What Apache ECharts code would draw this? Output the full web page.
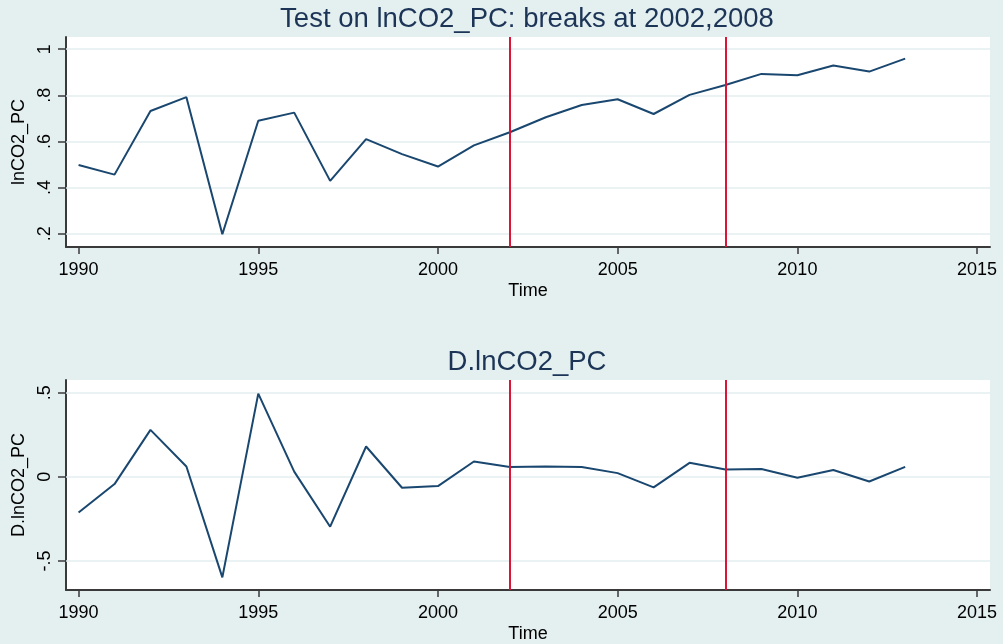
<!DOCTYPE html>
<html>
<head>
<meta charset="utf-8">
<script src="https://cdn.jsdelivr.net/npm/echarts@6/dist/echarts.min.js"></script>
<style>
  html, body { margin: 0; padding: 0; background: #e4eff0; }
  #chart { width: 1003px; height: 644px; }
</style>
</head>
<body>
<div id="chart"></div>
<script>
const years = [1990, 1991, 1992, 1993, 1994, 1995, 1996, 1997, 1998, 1999, 2000, 2001,
  2002, 2003, 2004, 2005, 2006, 2007, 2008, 2009, 2010, 2011, 2012, 2013];
const lnCO2 = [0.498, 0.456, 0.732, 0.792, 0.197, 0.690, 0.725, 0.429, 0.610, 0.545, 0.491, 0.583,
  0.640, 0.705, 0.758, 0.783, 0.719, 0.802, 0.845, 0.893, 0.887, 0.929, 0.903, 0.959];
const dLnCO2 = [-0.212, -0.043, 0.279, 0.061, -0.597, 0.494, 0.031, -0.296, 0.180, -0.065, -0.055, 0.091,
  0.059, 0.061, 0.059, 0.022, -0.063, 0.083, 0.043, 0.047, -0.006, 0.041, -0.028, 0.059];
const breaks = [2002, 2008];
const xTicks = [1990, 1995, 2000, 2005, 2010, 2015];
const yTicksTop = [0.2, 0.4, 0.6, 0.8, 1];
const yTicksBottom = [-0.5, 0, 0.5];

const font = "'Liberation Sans', Arial, sans-serif";
const navy = "#1a476f";
const axisColor = "#3a3a3a";
const gridColor = "#e3eef0";
const red = "#dc1438";

// Stata style tick labels: ".2", "-.5", "0"
function stataNum(v) {
  if (v === 0) return "0";
  let s = String(Math.round(v * 100) / 100);
  return s.replace(/^(-?)0\./, "$1.");
}

function xAxis(gridIndex) {
  return {
    type: "value", gridIndex, min: 1989.65, max: 2015.36,
    name: "Time", nameLocation: "middle", nameGap: 35,
    nameTextStyle: { fontFamily: font, fontSize: 18, color: "#000" },
    axisLine: { show: true, onZero: false, lineStyle: { color: axisColor, width: 2 } },
    axisTick: { show: true, length: 7, customValues: xTicks, lineStyle: { color: axisColor, width: 1.5 } },
    axisLabel: { customValues: xTicks, margin: 14, fontFamily: font, fontSize: 18, color: "#000",
      formatter: v => String(v) },
    splitLine: { show: false }
  };
}

function yAxis(gridIndex, name, min, max, ticks) {
  return {
    type: "value", gridIndex, min, max, name,
    nameLocation: "middle", nameRotate: 90, nameGap: 37,
    nameTextStyle: { fontFamily: font, fontSize: 18, color: "#000" },
    axisLine: { show: true, onZero: false, lineStyle: { color: axisColor, width: 2 } },
    axisTick: { show: true, length: 8, customValues: ticks, lineStyle: { color: axisColor, width: 1.5 } },
    axisLabel: { customValues: ticks, rotate: 90, margin: 12, fontFamily: font, fontSize: 18, color: "#000",
      formatter: stataNum },
    splitLine: { show: false }
  };
}

// horizontal gridlines at the tick values, kept under the data
function gridLines(ticks, gridIndex) {
  return {
    type: "line", xAxisIndex: gridIndex, yAxisIndex: gridIndex, data: [], z: 1, silent: true,
    markLine: {
      z: 1, symbol: "none", silent: true, label: { show: false },
      lineStyle: { color: gridColor, width: 1.5, type: "solid" },
      data: ticks.map(t => ({ yAxis: t }))
    }
  };
}

function dataSeries(values, gridIndex) {
  return {
    type: "line", xAxisIndex: gridIndex, yAxisIndex: gridIndex, z: 3,
    data: years.map((y, i) => [y, values[i]]),
    showSymbol: false, animation: false,
    lineStyle: { color: navy, width: 2 },
    markLine: {
      z: 4, symbol: "none", silent: true, label: { show: false },
      lineStyle: { color: red, width: 2, type: "solid" },
      data: breaks.map(b => ({ xAxis: b }))
    }
  };
}

const chart = echarts.init(document.getElementById("chart"), null, { renderer: "canvas" });
chart.setOption({
  backgroundColor: "#e4eff0",
  animation: false,
  title: [
    { text: "Test on lnCO2_PC: breaks at 2002,2008", left: 527, top: 5, textAlign: "center", padding: 0,
      textStyle: { fontFamily: font, fontSize: 27.5, fontWeight: "normal", color: "#1c3557" } },
    { text: "D.lnCO2_PC", left: 527, top: 348, textAlign: "center", padding: 0,
      textStyle: { fontFamily: font, fontSize: 27.5, fontWeight: "normal", color: "#1c3557" } }
  ],
  grid: [
    { left: 66, top: 37, width: 924, height: 210, show: true, backgroundColor: "#fff", borderWidth: 0 },
    { left: 66, top: 380, width: 924, height: 210, show: true, backgroundColor: "#fff", borderWidth: 0 }
  ],
  xAxis: [xAxis(0), xAxis(1)],
  yAxis: [
    yAxis(0, "lnCO2_PC", 0.142, 1.053, yTicksTop),
    yAxis(1, "D.lnCO2_PC", -0.672, 0.575, yTicksBottom)
  ],
  series: [
    gridLines(yTicksTop, 0),
    gridLines(yTicksBottom, 1),
    dataSeries(lnCO2, 0),
    dataSeries(dLnCO2, 1)
  ]
});
</script>
</body>
</html>
